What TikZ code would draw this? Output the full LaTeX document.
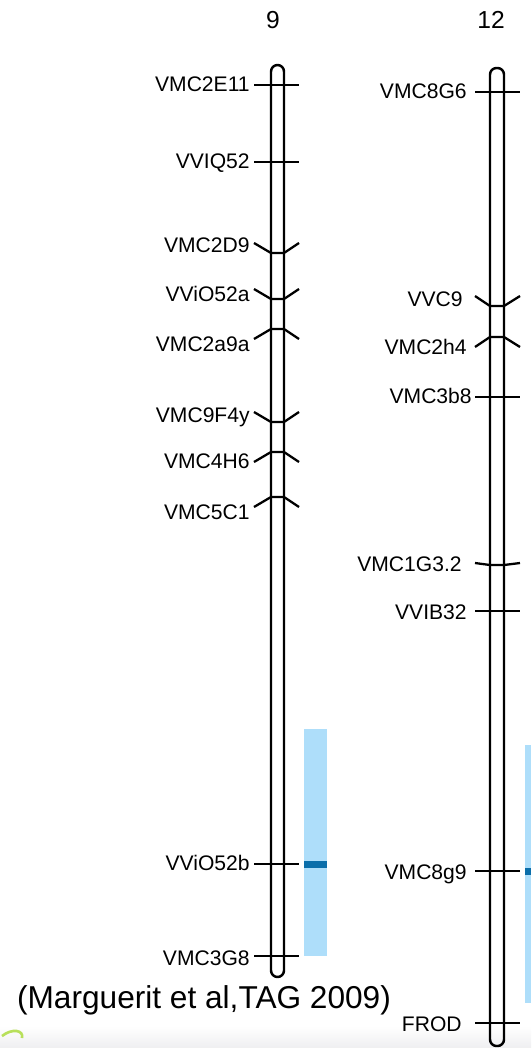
\documentclass[tikz,border=0pt]{standalone}
\usepackage{fontspec}
\setmainfont{Liberation Sans}
\definecolor{qtllight}{RGB}{174,222,250}
\definecolor{qtldark}{RGB}{10,110,170}

\begin{document}
\begin{tikzpicture}[x=0.02cm,y=-0.02cm,
    chrom/.style={draw,line width=1.4pt,rounded corners=0.13cm},
    tick_line/.style={line width=1.3pt},
    mark_label/.style={anchor=east,inner sep=0pt,text height=0.72em,text depth=0pt,font=\fontsize{12}{14}\selectfont},
    head_label/.style={inner sep=0pt,font=\fontsize{14}{16}\selectfont},
    qtl_box/.style={fill=qtllight},
    qtl_peak/.style={fill=qtldark}]
    \useasboundingbox (0,0) rectangle (531,1048);
    % faint slide background at the bottom
    \shade[top color=white,bottom color=blue!6!gray!12] (0,1026) rectangle (531,1048);
    \draw[line width=1.5pt,yellow!60!green!70!white] (2,1036) .. controls (12,1028) and (24,1030) .. (22,1038);

    \node[head_label] (c9) at (273,20) {9};
    \node[head_label] (c12) at (491,20) {12};

    % QTL boxes
    \fill[qtl_box] (304,729) rectangle (327,956);
    \fill[qtl_peak] (304,861) rectangle (327,868);
    \fill[qtl_box] (525,745) rectangle (531,1003);
    \fill[qtl_peak] (525,868) rectangle (531,875);

    % chromosome 9
    \draw[chrom] (271,65) rectangle (284,977);
    \foreach \y/\d in {85/0,162/0,253/-10,299/-10,329/10,422/-10,452/10,497/10,864/0,956/0}
        \draw[tick_line] (254,{\y+(\d)}) -- (271,\y) -- (284,\y) -- (299,{\y+(\d)});
    \node[mark_label] (m1) at (250,85) {VMC2E11};
    \node[mark_label] (m2) at (250,162) {VVIQ52};
    \node[mark_label] (m3) at (250,246) {VMC2D9};
    \node[mark_label] (m4) at (250,295) {VViO52a};
    \node[mark_label] (m5) at (250,345) {VMC2a9a};
    \node[mark_label] (m6) at (250,416) {VMC9F4y};
    \node[mark_label] (m7) at (250,462) {VMC4H6};
    \node[mark_label] (m8) at (250,513) {VMC5C1};
    \node[mark_label] (m9) at (250,864) {VViO52b};
    \node[mark_label] (m10) at (250,959) {VMC3G8};

    % chromosome 12
    \draw[chrom] (490,68) rectangle (504,1046);
    \foreach \y/\d in {92/0,306/-10,337/10,397/0,565/-2,611/0,871/0,1023/0}
        \draw[tick_line] (475,{\y+(\d)}) -- (490,\y) -- (504,\y) -- (520,{\y+(\d)});
    \node[mark_label] (n1) at (467,92) {VMC8G6};
    \node[mark_label] (n2) at (463,300) {VVC9};
    \node[mark_label] (n3) at (467,348) {VMC2h4};
    \node[mark_label] (n4) at (472,397) {VMC3b8};
    \node[mark_label] (n5) at (462,565) {VMC1G3.2};
    \node[mark_label] (n6) at (467,613) {VVIB32};
    \node[mark_label] (n7) at (467,873) {VMC8g9};
    \node[mark_label] (n8) at (462,1025) {FROD};

    \node[anchor=base,inner sep=0pt,font=\fontsize{18}{20}\selectfont] (cite) at (204,1008) {(Marguerit et al,TAG 2009)};
\end{tikzpicture}
\end{document}
